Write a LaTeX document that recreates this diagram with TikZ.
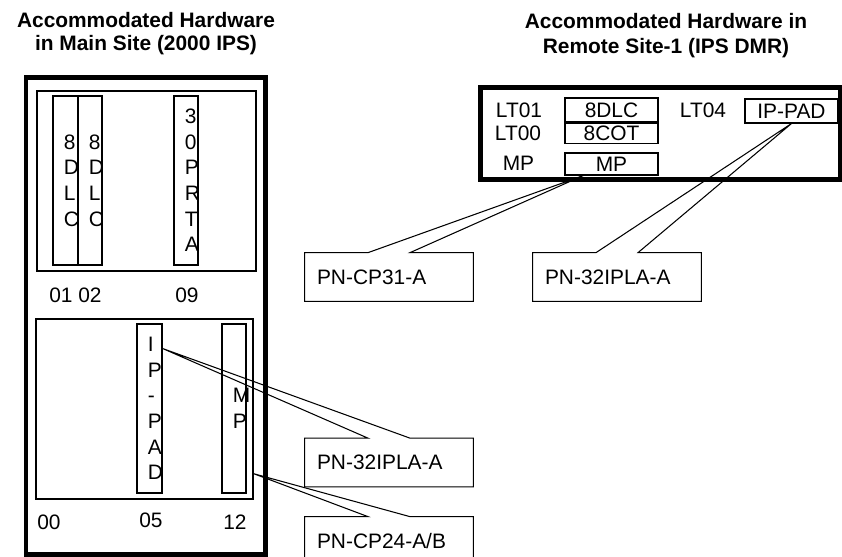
\documentclass[tikz,border=0pt]{standalone}
\usepackage{fontspec}
\setmainfont{Liberation Sans}
\usetikzlibrary{positioning,fit,calc}

\begin{document}
\begin{tikzpicture}[
    x=0.02cm, y=-0.02cm,
    font=\fontsize{11.9}{14}\selectfont,
    title/.style={font=\fontsize{11.9}{#1}\selectfont\bfseries,align=center,
                  inner sep=0,anchor=north},
    site/.style={draw,line width=0.1cm,inner sep=0},
    shelf/.style={draw,line width=0.8pt,inner sep=0},
    card/.style={draw,line width=0.6pt,inner sep=0},
    stack/.style={font=\fontsize{11.9}{14.6}\selectfont,align=left,inner sep=0},
    slot/.style={inner sep=0},
    pn/.style={minimum width=3.36cm,minimum height=0.96cm,text width=2.88cm,
               align=left,inner sep=0.24cm},
    wedge/.style={line width=0.6pt}
  ]
  \clip (0,0) rectangle (842,557);
  % titles
  \node[title=13.1] (ttlmain) at (146,12) {Accommodated Hardware\\in Main Site (2000 IPS)};
  \node[title=14.2] (ttlremote) at (666,13) {Accommodated Hardware in\\Remote Site-1 (IPS DMR)};

  % main site rack
  \node[site,fit={(26,78) (265,554)}] (mainsite) {};
  \node[shelf,fit={(37,91) (256,271)}] (upshelf) {};
  \node[shelf,fit={(36,319) (253,499)}] (lowshelf) {};
  \node[card,fit={(53,96) (78,265)}] (c01) {};
  \node[card,fit={(78,96) (102,265)}] (c02) {};
  \node[card,fit={(174,96) (198,265)}] (c09) {};
  \node[card,fit={(137,324) (162,493)}] (c05) {};
  \node[card,fit={(222,324) (246,493)}] (c12) {};
  \node[stack,right=0.22cm of c01.west] {8\\D\\L\\C};
  \node[stack,right=0.22cm of c02.west] {8\\D\\L\\C};
  \node[stack,right=0.22cm of c09.west] {3\\0\\P\\R\\T\\A};
  \node[stack,right=0.22cm of c05.west] {I\\P\\-\\P\\A\\D};
  \node[stack,right=0.22cm of c12.west] {M\\P};
  \node[slot] (n01) at (61,295) {01};
  \node[slot] (n02) at (90,295) {02};
  \node[slot] (n09) at (187,295) {09};
  \node[slot] (n00) at (49,522) {00};
  \node[slot] (n05) at (151,520) {05};
  \node[slot] (n12) at (235,522) {12};

  % remote site
  \node[site,fit={(480,88) (840,180)}] (remote) {};
  \node[card,minimum width=1.86cm,minimum height=0.48cm] (dlc) at (611.5,110) {8DLC};
  \node[card,minimum width=1.86cm,minimum height=0.4cm,below=0pt of dlc] (cot) {8COT};
  \node[card,minimum width=1.86cm,minimum height=0.44cm] (mpbox) at (611.5,164) {MP};
  \node[card,minimum width=1.86cm,minimum height=0.48cm] (ippad) at (791.5,111) {IP-PAD};
  \node[slot] (lt01) at (519,110) {LT01};
  \node[slot] (lt00) at (518,133) {LT00};
  \node[slot] (lmp) at (518.5,163) {MP};
  \node[slot] (lt04) at (703,110) {LT04};

  % part number callouts
  \node[pn] (pn1) at (389,277) {PN-CP31-A};
  \node[pn] (pn2) at (617,277) {PN-32IPLA-A};
  \node[pn] (pn3) at (389,462.5) {PN-32IPLA-A};
  \node[pn] (pn4) at (389,541) {PN-CP24-A/B};
  \coordinate (tip1) at ($(mpbox.south west)!0.2!(mpbox.south east)$);
  \coordinate (tip2) at (ippad.south);
  \coordinate (tip3) at ($(c05.north east)+(0,25)$);
  \coordinate (tip4) at ($(lowshelf.south east)+(0,-26)$);
  \foreach \c/\tip in {pn1/tip1,pn2/tip2,pn3/tip3,pn4/tip4}{
    \draw[wedge] (\c.north west) -- ($(\c.north)+(-21,0)$) -- (\tip)
      -- ($(\c.north)+(21,0)$) -- (\c.north east) -- (\c.south east)
      -- (\c.south west) -- cycle;
  }
\end{tikzpicture}
\end{document}
